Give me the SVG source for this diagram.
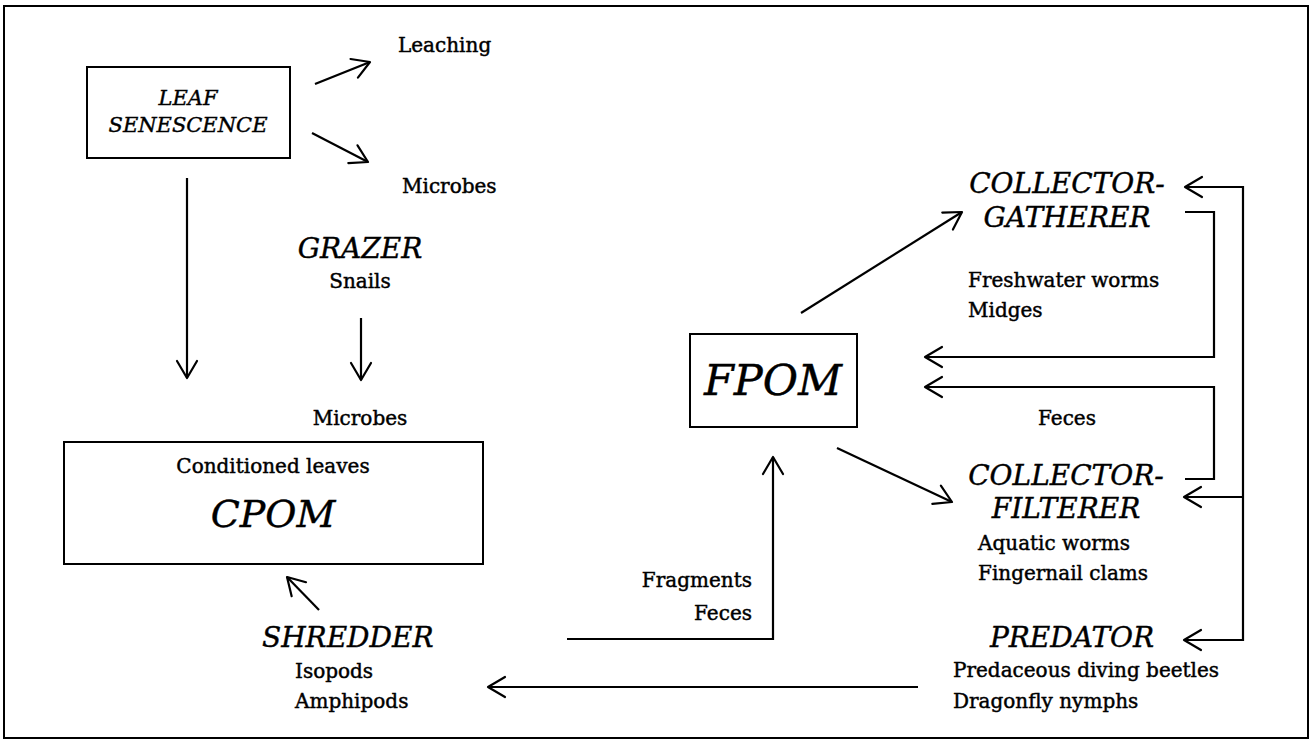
<svg xmlns="http://www.w3.org/2000/svg" width="1310" height="740" viewBox="0 0 1310 740">
<defs>
<marker id="ah" markerUnits="userSpaceOnUse" markerWidth="24" markerHeight="26" viewBox="0 0 24 26" refX="21" refY="13" orient="auto" overflow="visible">
<path d="M4,3 L21,13 L4,23" fill="none" stroke="#000" stroke-width="2.2" stroke-linecap="round" stroke-linejoin="round"/>
</marker>
<style>
.t{font-family:"DejaVu Serif","Liberation Serif",serif;font-size:20px;fill:#000;stroke:#000;stroke-width:0.45px}
.h{font-family:"DejaVu Serif","Liberation Serif",serif;font-style:italic;font-size:28px;fill:#000;stroke:#000;stroke-width:0.4px}
.box{fill:none;stroke:#000;stroke-width:2}
.c{fill:none;stroke:#000;stroke-width:2.2}
.a{marker-end:url(#ah)}
.m{text-anchor:middle}
.e{text-anchor:end}
</style>
</defs>
<rect x="0" y="0" width="1310" height="740" fill="#fff"/>
<rect x="4" y="6" width="1304" height="732" class="box" stroke-width="2.5"/>

<g id="leaf-senescence">
<rect x="87" y="67" width="203" height="91" class="box"/>
<text class="h m" x="188" y="105" style="font-size:21px">LEAF</text>
<text class="h m" x="188" y="132" style="font-size:21px">SENESCENCE</text>
</g>
<g id="leaching"><text class="t" x="398" y="52">Leaching</text></g>
<g id="microbes-top"><text class="t" x="402" y="193">Microbes</text></g>
<g id="grazer">
<text class="h m" x="360" y="258">GRAZER</text>
<text class="t m" x="360" y="288">Snails</text>
</g>
<g id="microbes-mid"><text class="t m" x="360" y="425">Microbes</text></g>
<g id="cpom">
<rect x="64" y="442" width="419" height="122" class="box"/>
<text class="t m" x="273" y="473">Conditioned leaves</text>
<text class="h m" x="273" y="527" style="font-size:38px">CPOM</text>
</g>
<g id="shredder">
<text class="h" x="262" y="647">SHREDDER</text>
<text class="t" x="295" y="678">Isopods</text>
<text class="t" x="295" y="708">Amphipods</text>
</g>
<g id="fragments-label">
<text class="t e" x="752" y="587">Fragments</text>
<text class="t e" x="752" y="620">Feces</text>
</g>
<g id="fpom">
<rect x="690" y="334" width="167" height="93" class="box"/>
<text class="h m" x="773" y="395" style="font-size:43px">FPOM</text>
</g>
<g id="collector-gatherer">
<text class="h m" x="1067" y="193">COLLECTOR-</text>
<text class="h m" x="1067" y="227">GATHERER</text>
<text class="t" x="968" y="287">Freshwater worms</text>
<text class="t" x="968" y="317">Midges</text>
</g>
<g id="feces-label"><text class="t m" x="1067" y="425">Feces</text></g>
<g id="collector-filterer">
<text class="h m" x="1066" y="485">COLLECTOR-</text>
<text class="h m" x="1066" y="518">FILTERER</text>
<text class="t" x="978" y="550">Aquatic worms</text>
<text class="t" x="978" y="580">Fingernail clams</text>
</g>
<g id="predator">
<text class="h m" x="1072" y="647">PREDATOR</text>
<text class="t" x="953" y="677">Predaceous diving beetles</text>
<text class="t" x="953" y="708">Dragonfly nymphs</text>
</g>

<g id="connectors">
<line class="c a" x1="315" y1="84" x2="370" y2="62"/>
<line class="c a" x1="312" y1="133" x2="368" y2="162"/>
<line class="c a" x1="187" y1="178" x2="187" y2="378"/>
<line class="c a" x1="361" y1="318" x2="361" y2="380"/>
<line class="c a" x1="319" y1="610" x2="287" y2="577"/>
<line class="c a" x1="918" y1="687" x2="488" y2="687"/>
<path class="c a" d="M567,639 H773 V457"/>
<line class="c a" x1="801" y1="313" x2="962" y2="212"/>
<line class="c a" x1="837" y1="448" x2="952" y2="502"/>
<path class="c a" d="M1185,212 H1214 V357 H925"/>
<path class="c a" d="M1185,479 H1214 V387 H925"/>
<line class="c" x1="1243" y1="186" x2="1243" y2="641"/>
<line class="c a" x1="1243" y1="187" x2="1185" y2="187"/>
<line class="c a" x1="1243" y1="497" x2="1184" y2="497"/>
<line class="c a" x1="1243" y1="640" x2="1184" y2="640"/>
</g>
</svg>
